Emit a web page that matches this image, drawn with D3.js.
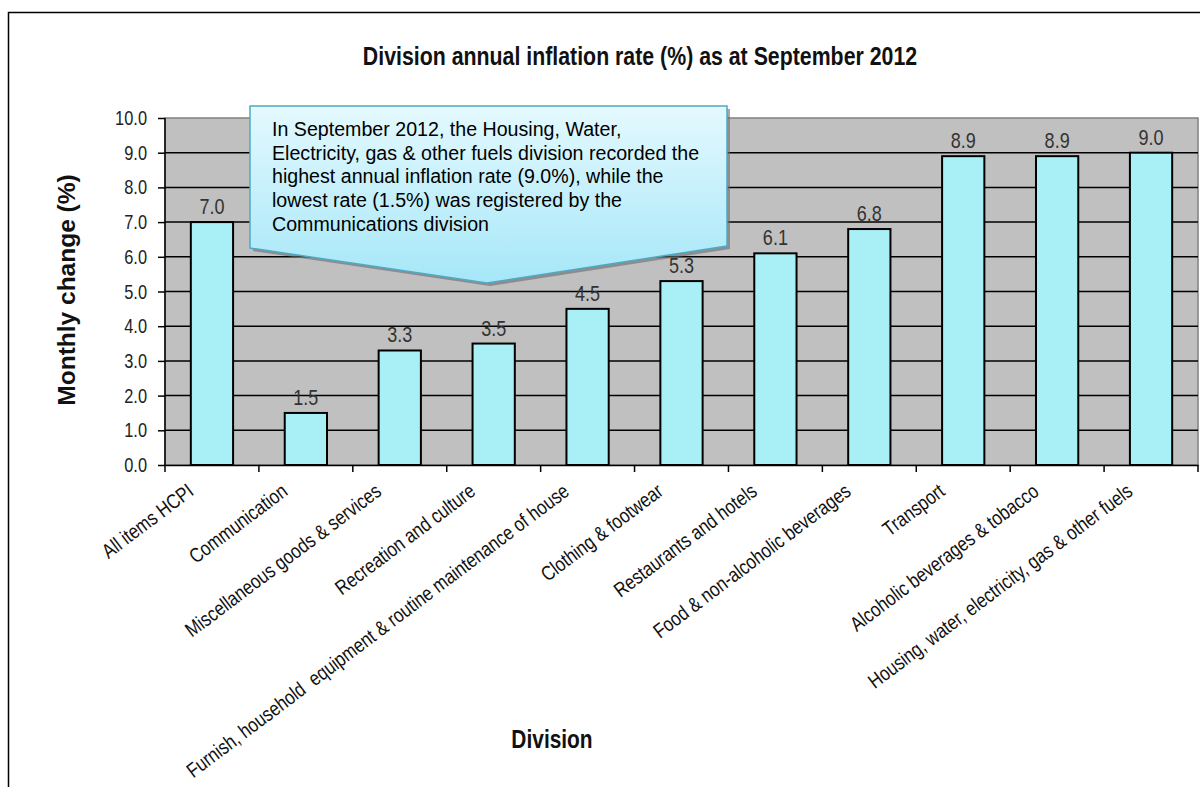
<!DOCTYPE html>
<html><head><meta charset="utf-8">
<script src="https://cdn.jsdelivr.net/npm/d3@7"></script>
<style>
html,body{margin:0;padding:0;background:#fff;}
svg{display:block;}
</style></head>
<body>
<svg id="c" width="1200" height="787"></svg>
<script>
const categories = ["All items HCPI","Communication","Miscellaneous goods & services","Recreation and culture","Furnish, household  equipment & routine maintenance of house","Clothing & footwear","Restaurants and hotels","Food & non-alcoholic beverages","Transport","Alcoholic beverages & tobacco","Housing, water, electricity, gas & other fuels"];
const values = [7.0,1.5,3.3,3.5,4.5,5.3,6.1,6.8,8.9,8.9,9.0];
const yTicks = [0,1,2,3,4,5,6,7,8,9,10];
const titleText = "Division annual inflation rate (%) as at September 2012";
const yTitle = "Monthly change (%)";
const xTitle = "Division";
const calloutLines = ["In September 2012, the Housing, Water,","Electricity, gas & other fuels division recorded the","highest annual inflation rate (9.0%), while the","lowest rate (1.5%) was registered by the","Communications division"];

const svg = d3.select("#c");
const FONT = '"Liberation Sans",Arial,sans-serif';
const SQ = 0.82; // narrow (condensed) rendering

function ntext(parent, x, y, rot, opts){
  const sq = opts.sq || SQ;
  const t = parent.append("text")
    .attr("transform", `translate(${x},${y})` + (rot ? ` rotate(${rot})` : "") + ` scale(${sq},1)`)
    .attr("font-family", FONT).attr("font-size", opts.size)
    .attr("text-anchor", opts.anchor || "start")
    .attr("fill", opts.fill || "#111");
  if (opts.bold) t.attr("font-weight","bold");
  t.style("white-space","pre").text(opts.text);
  return t;
}

// outer frame
svg.append("path").attr("d","M8.5,787 L8.5,12.5 L1200,12.5").attr("fill","none").attr("stroke","#000").attr("stroke-width",1.5);

const L=165, R=1198, T=118, B=465;
const x = d3.scaleBand().domain(categories).range([L,R]).paddingInner(0.55).paddingOuter(0.275);
const xb = d3.scaleBand().domain(categories).range([L,R]);
const y = d3.scaleLinear().domain([0,10]).range([B,T]);

// plot bg
svg.append("rect").attr("x",L).attr("y",T).attr("width",R-L).attr("height",B-T).attr("fill","#c0c0c0").attr("stroke","#808080").attr("stroke-width",1.5);

// grid
svg.append("g").selectAll("line").data(yTicks.slice(1,-1)).join("line")
  .attr("x1",L).attr("x2",R).attr("y1",d=>y(d)).attr("y2",d=>y(d))
  .attr("stroke","#000").attr("stroke-width",1.5);

// bars
svg.append("g").selectAll("rect").data(values).join("rect")
  .attr("x",(d,i)=>x(categories[i])).attr("width",x.bandwidth())
  .attr("y",d=>y(d)).attr("height",d=>B-y(d))
  .attr("fill","#a9eff6").attr("stroke","#000").attr("stroke-width",2);

// data labels
const dl = svg.append("g");
values.forEach((v,i)=>{
  ntext(dl, x(categories[i])+x.bandwidth()/2, y(v)-8, 0, {size:22, anchor:"middle", fill:"#333", text:v.toFixed(1)});
});

// y axis
const ya = svg.append("g").attr("transform",`translate(${L},0)`)
  .call(d3.axisLeft(y).tickValues(yTicks).tickSize(7).tickFormat(""));
ya.select(".domain").attr("stroke","#000").attr("stroke-width",1.5).attr("d",`M0,${T}V${B}`);
ya.selectAll(".tick line").attr("stroke","#000").attr("stroke-width",1.5);
const yl = svg.append("g");
yTicks.forEach(t=>{
  ntext(yl, 147, y(t)+7, 0, {size:20, anchor:"end", fill:"#222", text:d3.format(".1f")(t)});
});

// x axis
const xa = svg.append("g").attr("transform",`translate(0,${B})`)
  .call(d3.axisBottom(xb).tickSize(0).tickFormat(""));
xa.select(".domain").attr("stroke","#000").attr("stroke-width",1.5);
svg.append("g").selectAll("line").data(d3.range(categories.length+1)).join("line")
  .attr("x1",i=>L+i*xb.step()).attr("x2",i=>L+i*xb.step())
  .attr("y1",B).attr("y2",B+7).attr("stroke","#000").attr("stroke-width",1.5);

const xl = svg.append("g");
categories.forEach(c=>{
  ntext(xl, xb(c)+xb.bandwidth()/2-17, B+29, -37, {size:20.5, anchor:"end", fill:"#111", text:c});
});

// titles
ntext(svg, 640, 65, 0, {size:26, anchor:"middle", bold:true, text:titleText});
svg.append("text").attr("transform","translate(75,290) rotate(-90)").attr("text-anchor","middle")
  .attr("font-family",FONT).attr("font-weight","bold").attr("font-size",24.5).attr("fill","#111").text(yTitle);
ntext(svg, 552, 748, 0, {size:25.5, anchor:"middle", bold:true, text:xTitle});

// callout
const defs = svg.append("defs");
const g = defs.append("linearGradient").attr("id","cg").attr("x1",0).attr("y1",0).attr("x2",0).attr("y2",1);
g.append("stop").attr("offset","0%").attr("stop-color","#e4f9fe");
g.append("stop").attr("offset","100%").attr("stop-color","#a6e7f8");
const cpts = [[250,106],[727,106],[727,246],[487,283],[250,248]];
const line = d3.line();
svg.append("path").attr("d",line(cpts.map(p=>[p[0]+3,p[1]+3]))+"Z").attr("fill","#6b6b6b").attr("opacity",0.6);
svg.append("path").attr("d",line(cpts)+"Z").attr("fill","url(#cg)").attr("stroke","#4fa9c6").attr("stroke-width",1.5);
const cl = svg.append("g");
calloutLines.forEach((s,i)=>{
  ntext(cl, 272, 136+i*23.7, 0, {size:21, sq:0.935, fill:"#000", text:s});
});
</script>
</body></html>
